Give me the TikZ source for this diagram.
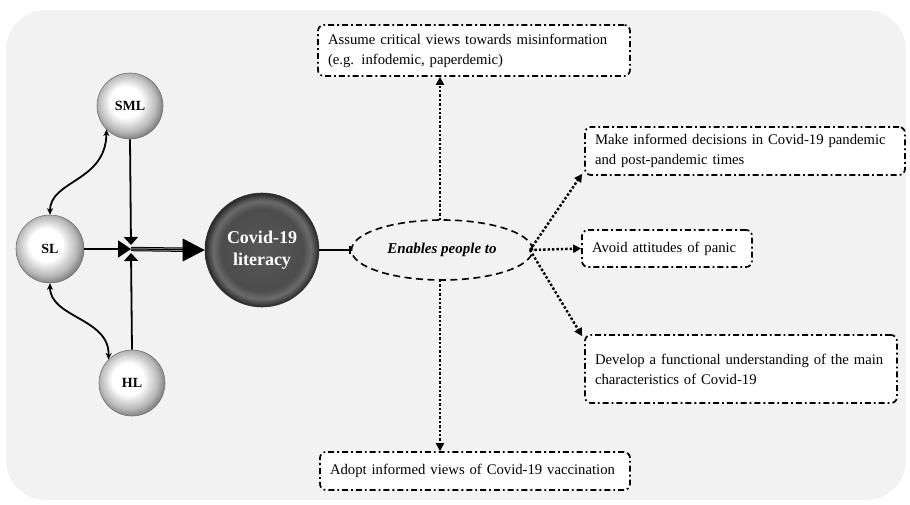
\documentclass[tikz,border=0pt]{standalone}
\usepackage{fontspec}
\setmainfont{Liberation Serif}
\usetikzlibrary{arrows.meta,shapes.geometric,calc}
\definecolor{bg}{HTML}{F2F2F2}
\pgfdeclareradialshading{smallball}{\pgfpoint{-4bp}{4bp}}{color(0bp)=(white); color(12bp)=(white); color(22bp)=(black!28); color(27bp)=(black!50); color(50bp)=(black!50)}
\pgfdeclareradialshading{covball}{\pgfpoint{0bp}{0bp}}{color(0bp)=(black!66); color(18bp)=(black!70); color(21.5bp)=(black!58); color(25bp)=(black!85); color(50bp)=(black!85)}
\begin{document}
\begin{tikzpicture}[x=1pt,y=-1pt,
  ball/.style={circle, draw=black!55, line width=0.6pt, shading=smallball, minimum size=66pt, inner sep=0pt, font=\fontsize{14}{16}\selectfont\bfseries},
  covid/.style={circle, draw=black!80, line width=0.6pt, shading=covball, minimum size=114pt, inner sep=0pt, text=white, align=center, font=\fontsize{18}{22}\selectfont\bfseries},
  outbox/.style={draw, fill=white, line width=1.7pt, rounded corners=6pt, dash pattern=on 6pt off 3pt on 1.8pt off 3pt, align=left, inner xsep=10pt, inner ysep=0pt, font=\fontsize{14.7}{20}\selectfont},
  curv/.style={line width=1.8pt, {Stealth[length=6.5pt,width=6pt]}-{Stealth[length=6.5pt,width=6pt]}},
  dotarrow/.style={line width=2.4pt, dash pattern=on 2.4pt off 2pt, -{Triangle[length=8pt,width=8pt]}},
  solidline/.style={line width=1.8pt}
]
\useasboundingbox (0,0) rectangle (910,504);
\fill[bg, rounded corners=40pt] (6,10) rectangle (906,500);

% circles
\node[ball] (sml) at (130,106) {SML};
\node[ball, minimum size=68pt] (sl) at (50,249) {SL};
\node[ball] (hl) at (132,383) {HL};
\node[covid] (cov) at (262,250) {Covid-19\\literacy};
\coordinate (j) at (131,249);

% curved links
\draw[curv] (sl.north) .. controls (50,180) and (106,182) .. (sml.south west);
\draw[curv] (sl.south) .. controls (50,318) and (110,318) .. (hl.north west);

% converging arrows
\draw[solidline, -{Triangle[length=13pt,width=17pt]}] (sl.east) -- (j);
\draw[solidline, -{Triangle[length=8pt,width=14pt]}] (sml.south) -- (131,245);
\draw[solidline, -{Triangle[length=8pt,width=14pt]}] (hl.north) -- (131,253);
\draw[line width=1pt, double=black!40, double distance=2.4pt, shorten >=20pt] (j) -- (cov.west);
\draw[line width=1pt, shorten >=20pt] (j) -- (cov.west);
\fill[black] ($(cov.west)+(-22,-11.5)$) -- (cov.west) -- ($(cov.west)+(-22,11.5)$) -- cycle;

% ellipse
\node[ellipse, draw, line width=1.6pt, dash pattern=on 7pt off 4.5pt, minimum width=181pt, minimum height=60pt, inner sep=0pt, font=\fontsize{15}{18}\selectfont\bfseries\itshape] (e) at (442,250) {Enables people to};
\draw[solidline, -{Bar[width=8pt,line width=1.4pt]}] (cov.east) -- (e.west);

% outcome boxes
\node[outbox, text width=292pt, minimum height=51pt] (a1) at (474,50.5) {Assume critical views towards misinformation\\(e.g. infodemic, paperdemic)};
\node[outbox, text width=300pt, minimum height=48pt] (m) at (745,151) {Make informed decisions in Covid-19 pandemic\\and post-pandemic times};
\node[outbox, text width=150pt, minimum height=37pt] (av) at (667,248.5) {Avoid attitudes of panic};
\node[outbox, text width=292pt, minimum height=68pt] (d) at (741,369) {Develop a functional understanding of the main\\characteristics of Covid-19};
\node[outbox, text width=290pt, minimum height=38pt] (ad) at (475,471) {Adopt informed views of Covid-19 vaccination};

% dotted arrows
\draw[dotarrow] (440,220) -- (a1.south -| 440,0);
\draw[dotarrow] (440,280) -- (ad.north -| 440,0);
\draw[dotarrow] (530,250) -- ([xshift=-2pt,yshift=2pt]m.south west);
\draw[dotarrow] (530,250) -- (av.west);
\draw[dotarrow] (530,250) -- ([xshift=-2pt,yshift=-2pt]d.north west);
\end{tikzpicture}
\end{document}
